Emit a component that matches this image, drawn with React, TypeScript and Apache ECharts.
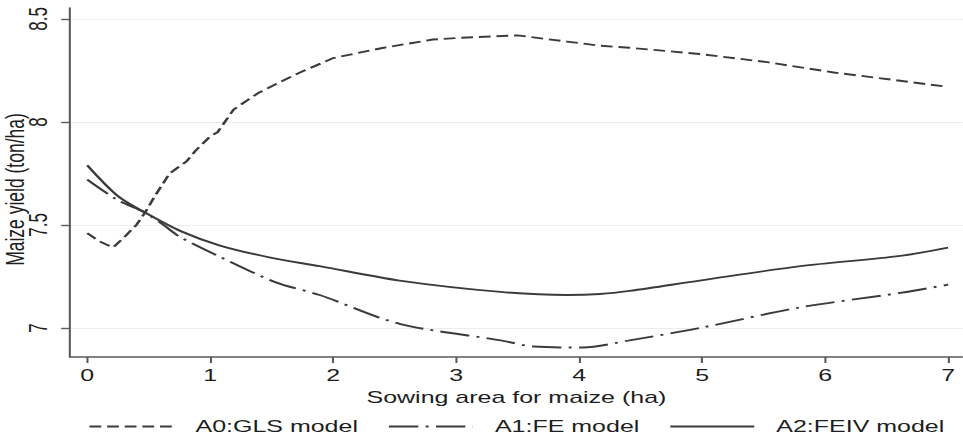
import React, { useEffect, useRef } from "react";
import * as echarts from "echarts";

// Sowing area (ha) and predicted maize yield (ton/ha) for each model
const glsArea = [0, 0.1, 0.21, 0.3, 0.4, 0.47, 0.55, 0.67, 0.81, 0.88, 1.0, 1.06, 1.19, 1.39, 1.59, 1.73, 2.0, 2.41, 2.81, 3.09, 3.5, 3.9, 4.17, 4.41, 4.98, 5.53, 6.07, 6.61, 7.0];
const glsYield = [7.46, 7.42, 7.39, 7.44, 7.5, 7.56, 7.64, 7.75, 7.81, 7.86, 7.93, 7.95, 8.06, 8.14, 8.2, 8.24, 8.31, 8.36, 8.4, 8.41, 8.42, 8.39, 8.37, 8.36, 8.33, 8.29, 8.24, 8.2, 8.17];

const feArea = [0, 0.25, 0.47, 0.62, 0.76, 1.08, 1.54, 1.89, 2.54, 3.36, 3.63, 4.03, 4.41, 4.98, 5.8, 6.61, 7.0];
const feYield = [7.72, 7.62, 7.56, 7.5, 7.44, 7.345, 7.22, 7.16, 7.02, 6.94, 6.91, 6.905, 6.94, 7.0, 7.1, 7.17, 7.21];

const feivArea = [0, 0.25, 0.47, 0.76, 1.08, 1.5, 1.89, 2.54, 3.36, 3.9, 4.17, 4.41, 4.98, 5.8, 6.61, 7.0];
const feivYield = [7.79, 7.64, 7.56, 7.47, 7.4, 7.34, 7.3, 7.23, 7.175, 7.16, 7.165, 7.18, 7.23, 7.3, 7.35, 7.39];

const xTicks = [0, 1, 2, 3, 4, 5, 6, 7];
const yTicks = [7, 7.5, 8, 8.5];

const seriesNames = ["A0:GLS model", "A1:FE model", "A2:FEIV model"];

// The figure is laid out on a narrower canvas and stretched horizontally
const STRETCH = 1.47;
const FULL_W = 963;
const FULL_H = 439;
const INNER_W = FULL_W / STRETCH;

const FONT = "'Liberation Sans', Arial, sans-serif";
const INK = "#3b3b3b";
const TEXT = "#1e1e1e";

const pairs = (xs: number[], ys: number[]) => xs.map((x, i) => [x, ys[i]]);

export default function App() {
  const ref = useRef<HTMLDivElement | null>(null);

  useEffect(() => {
    if (!ref.current) return;
    const chart = echarts.init(ref.current, null, { renderer: "svg" });

    const lineBase = {
      type: "line" as const,
      symbol: "none",
      showSymbol: false,
      animation: false,
    };

    chart.setOption({
      animation: false,
      backgroundColor: "#ffffff",
      textStyle: { fontFamily: FONT },
      grid: {
        left: 70 / STRETCH,
        right: 0,
        top: 8,
        bottom: FULL_H - 357,
        containLabel: false,
        outerBoundsMode: "none",
      },
      legend: {
        data: seriesNames,
        left: 88 / STRETCH,
        top: 418,
        width: 600,
        padding: 0,
        itemWidth: 84 / STRETCH,
        itemHeight: 14,
        itemGap: 20,
        itemStyle: { opacity: 0, borderWidth: 0 },
        textStyle: {
          fontFamily: FONT,
          fontSize: 17,
          color: TEXT,
          padding: [0, 0, 0, 10],
        },
      },
      xAxis: {
        type: "value",
        min: -0.14,
        max: 7.12,
        name: "Sowing area for maize (ha)",
        nameLocation: "middle",
        nameGap: 29,
        nameTextStyle: { fontFamily: FONT, fontSize: 17, color: TEXT },
        axisLine: { show: true, onZero: false, lineStyle: { color: "#5a5a5a", width: 1.6 } },
        axisTick: {
          show: true,
          customValues: xTicks,
          length: 6,
          lineStyle: { color: "#5a5a5a", width: 1.4 },
        },
        axisLabel: {
          customValues: xTicks,
          fontFamily: FONT,
          fontSize: 17,
          color: TEXT,
          margin: 10,
        },
        splitLine: { show: false },
      },
      yAxis: {
        type: "value",
        min: 6.859,
        max: 8.553,
        name: "Maize yield (ton/ha)",
        nameLocation: "middle",
        nameGap: 28,
        nameMoveOverlap: false,
        nameTextStyle: {
          fontFamily: FONT,
          fontSize: 17.5,
          color: TEXT,
          padding: [0, 14, 0, 0],
        },
        axisLine: { show: true, onZero: false, lineStyle: { color: "#5a5a5a", width: 1.4 } },
        axisTick: {
          show: true,
          customValues: yTicks,
          length: 6,
          lineStyle: { color: "#5a5a5a", width: 1.4 },
        },
        axisLabel: {
          customValues: yTicks,
          rotate: 90,
          fontFamily: FONT,
          fontSize: 17,
          color: TEXT,
          margin: 13,
        },
        splitLine: { show: true, lineStyle: { color: "#e6eef1", width: 1.2 } },
      },
      series: [
        {
          ...lineBase,
          name: seriesNames[0],
          data: pairs(glsArea, glsYield),
          lineStyle: { color: INK, width: 1.9, type: [8, 4] },
          itemStyle: { color: INK },
        },
        {
          ...lineBase,
          name: seriesNames[1],
          data: pairs(feArea, feYield),
          smooth: 0.3,
          lineStyle: { color: INK, width: 1.9, type: [20, 5, 2, 5] },
          itemStyle: { color: INK },
        },
        {
          ...lineBase,
          name: seriesNames[2],
          data: pairs(feivArea, feivYield),
          smooth: 0.3,
          lineStyle: { color: INK, width: 1.9, type: "solid" },
          itemStyle: { color: INK },
        },
      ],
    });

    return () => chart.dispose();
  }, []);

  return (
    <div
      style={{
        position: "fixed",
        left: 0,
        top: 0,
        width: FULL_W,
        height: FULL_H,
        overflow: "hidden",
        background: "#ffffff",
      }}
    >
      <div
        ref={ref}
        style={{
          width: INNER_W,
          height: FULL_H,
          transform: `scaleX(${STRETCH})`,
          transformOrigin: "0 0",
        }}
      />
    </div>
  );
}
